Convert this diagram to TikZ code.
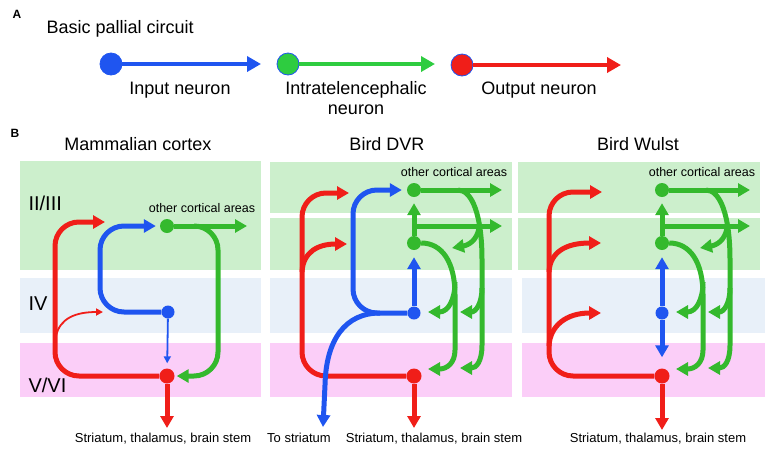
\documentclass[tikz,border=0pt]{standalone}
\usepackage{fontspec}
\setmainfont{Liberation Sans}
\usetikzlibrary{arrows.meta}
\definecolor{inblue}{RGB}{31,85,240}
\definecolor{itgreen}{RGB}{52,185,45}
\definecolor{itgreenA}{RGB}{46,204,64}
\definecolor{outred}{RGB}{240,30,25}
\definecolor{layerII}{RGB}{204,239,204}
\definecolor{layerIV}{RGB}{232,240,249}
\definecolor{layerV}{RGB}{251,206,248}
\tikzset{
  neuron/.style={circle, fill=#1, inner sep=0pt, minimum size=14pt},
  big neuron/.style={circle, fill=#1, draw=inblue, line width=0.8pt, inner sep=0pt, minimum size=22pt},
  axon/.style={draw=#1, line width=5pt, -{Triangle[length=12pt,width=13pt]}},
  fine axon/.style={draw=#1, line width=1.8pt, -{Triangle[length=7pt,width=7pt]}},
  legend axon/.style={draw=#1, line width=4.5pt, -{Triangle[length=14pt,width=15pt]}},
  panel letter/.style={anchor=base west, font=\fontsize{12}{14}\selectfont\bfseries},
  title/.style={anchor=base, font=\fontsize{18}{20}\selectfont},
  layer name/.style={anchor=base west, font=\fontsize{20}{22}\selectfont},
  target/.style={anchor=base, font=\fontsize{13}{15}\selectfont},
  areas/.style={anchor=base, font=\fontsize{12.5}{14}\selectfont}
}
\def\Layers#1#2{%
  \fill[layerIV] (#1,278) rectangle (#2,333);
  \fill[layerV] (#1,343) rectangle (#2,397);
}
\def\GreenTree#1#2{%
  \fill[layerII] (#2-144,162) rectangle (#2+98,213);
  \fill[layerII] (#2-144,218) rectangle (#2+98,270);
  \node[areas] (#1Areas) at (#2+40,176) {other cortical areas};
  \node[neuron=itgreen] (#1Top) at (#2,190) {};
  \node[neuron=itgreen] (#1Mid) at (#2,243) {};
  \coordinate (#1TopEnd) at (#2+88,190);
  \coordinate (#1MidEnd) at (#2+88,226);
  \draw[axon=itgreen] (#1Top) -- (#1TopEnd);
  \draw[axon=itgreen, shorten >=6pt] (#1Mid) -- (#1Top);
  \draw[axon=itgreen] (#2,226) -- (#1MidEnd);
  \draw[axon=itgreen] (#2+44,190) .. controls (#2+58,190) and (#2+68,215) .. (#2+68,260)
    -- (#2+68,345) .. controls (#2+68,362) and (#2+62,368) .. (#2+46,368);
  \draw[axon=itgreen] (#2+68,288) .. controls (#2+68,303) and (#2+62,312) .. (#2+46,312);
  \draw[axon=itgreen] (#2+65,228) .. controls (#2+63,240) and (#2+55,245) .. (#2+38,248);
  \draw[axon=itgreen] (#1Mid) .. controls (#2+28,243) and (#2+41,262) .. (#2+41,295)
    -- (#2+41,350) .. controls (#2+41,363) and (#2+33,369) .. (#2+14,369);
  \draw[axon=itgreen] (#2+41,282) .. controls (#2+41,300) and (#2+34,312) .. (#2+14,312);
}

\begin{document}
\begin{tikzpicture}[x=1pt, y=-1pt]
\useasboundingbox (0,0) rectangle (767,448);

\node[panel letter] (letterA) at (9,18) {A};
\node[anchor=base west, font=\fontsize{18}{20}\selectfont] (basic) at (43,33) {Basic pallial circuit};
\node[big neuron=inblue] (inA) at (111,64) {};
\node[big neuron=itgreenA] (itA) at (288,64) {};
\node[big neuron=outred] (outA) at (462,65) {};
\coordinate (inAEnd) at (261,64);
\coordinate (itAEnd) at (435,64);
\coordinate (outAEnd) at (621,65);
\draw[legend axon=inblue] (inA) -- (inAEnd);
\draw[legend axon=itgreenA] (itA) -- (itAEnd);
\draw[legend axon=outred] (outA) -- (outAEnd);
\node[title] (inALabel) at (180,94) {Input neuron};
\node[title, align=center] (itALabel) at (356,114) {Intratelencephalic\\neuron};
\node[title] (outALabel) at (539,94) {Output neuron};

\node[panel letter] (letterB) at (7,137) {B};
\node[title] (mamTitle) at (138,150) {Mammalian cortex};
\node[title] (dvrTitle) at (387,150) {Bird DVR};
\node[title] (wulTitle) at (638,150) {Bird Wulst};

\fill[layerII] (20,161) rectangle (261,270);
\Layers{20}{261}
\Layers{270}{512}
\Layers{522}{765}
\node[layer name] (lII) at (25,210) {II/III};
\node[layer name] (lIV) at (25,310) {IV};
\node[layer name] (lV) at (25,392) {V/VI};

% mammalian cortex
\node[areas] (mamAreas) at (202,212) {other cortical areas};
\node[neuron=itgreen] (mamIT) at (167,226) {};
\node[neuron=inblue, minimum size=13pt] (mamIn) at (168,312) {};
\node[neuron=outred, minimum size=15pt] (mamOut) at (167,376) {};
\coordinate (mamITEnd) at (247,226);
\coordinate (mamRedTip) at (105,222);
\coordinate (mamOutEnd) at (167,428);
\draw[axon=itgreen] (mamIT) -- (mamITEnd);
\draw[axon=itgreen, rounded corners=24pt, shorten >=2pt] (194,226) -- (218,226) -- (218,376) -- (mamOut);
\draw[axon=outred, rounded corners=24pt] (mamOut) -- (55,376) -- (55,222) -- (mamRedTip);
\draw[fine axon=outred] (56,336) .. controls (60,318) and (76,312) .. (103,312);
\draw[axon=inblue, rounded corners=24pt, shorten >=4pt] (mamIn) -- (100,312) -- (100,226) -- (mamIT);
\draw[fine axon=inblue, shorten >=5pt] (mamIn) -- (mamOut);
\draw[axon=outred] (mamOut) -- (mamOutEnd);
\node[target] (mamTarget) at (163,442) {Striatum, thalamus, brain stem};

% bird DVR
\GreenTree{dvr}{414}
\node[neuron=inblue, minimum size=13pt] (dvrIn) at (414,313) {};
\node[neuron=outred, minimum size=15pt] (dvrOut) at (414,376) {};
\coordinate (dvrRedTip) at (349,193);
\coordinate (dvrOutEnd) at (414,428);
\coordinate (dvrBlueEnd) at (323,427);
\draw[axon=outred, rounded corners=24pt] (dvrOut) -- (302,376) -- (302,193) -- (dvrRedTip);
\draw[axon=outred] (302,272) .. controls (303,252) and (318,244) .. (347,244);
\draw[axon=outred] (dvrOut) -- (dvrOutEnd);
\draw[axon=inblue, rounded corners=24pt, shorten >=5pt] (dvrIn) -- (353,313) -- (353,190) -- (dvrTop);
\draw[axon=inblue, shorten >=7pt] (dvrIn) -- (dvrMid);
\draw[axon=inblue] (380,313) .. controls (345,313) and (326,340) .. (325,385) -- (dvrBlueEnd);
\node[target] (dvrStriatum) at (299,442) {To striatum};
\node[target] (dvrTarget) at (434,442) {Striatum, thalamus, brain stem};

% bird Wulst
\GreenTree{wul}{662}
\node[neuron=inblue, minimum size=13pt] (wulIn) at (662,313) {};
\node[neuron=outred, minimum size=15pt] (wulOut) at (662,376) {};
\coordinate (wulRedTip) at (602,192);
\coordinate (wulOutEnd) at (662,430);
\draw[axon=outred, rounded corners=24pt] (wulOut) -- (549,376) -- (549,192) -- (wulRedTip);
\draw[axon=outred] (549,272) .. controls (550,252) and (566,243) .. (601,243);
\draw[axon=outred] (549,346) .. controls (550,326) and (566,313) .. (601,313);
\draw[axon=outred] (wulOut) -- (wulOutEnd);
\draw[axon=inblue, shorten >=7pt] (wulIn) -- (wulMid);
\draw[axon=inblue, shorten >=11pt] (wulIn) -- (wulOut);
\node[target] (wulTarget) at (658,442) {Striatum, thalamus, brain stem};
\end{tikzpicture}
\end{document}
